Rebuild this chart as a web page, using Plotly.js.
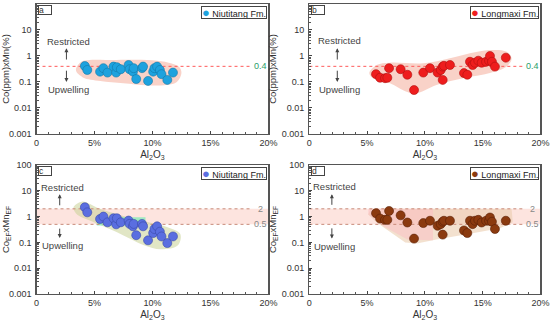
<!DOCTYPE html>
<html><head><meta charset="utf-8">
<script src="https://cdn.plot.ly/plotly-3.0.1.min.js"></script>
<style>html,body{margin:0;padding:0;background:#fff}#chart{width:550px;height:322px}</style>
</head><body><div id="chart"></div>
<script>
// ---- data ----
const niuAl = [4.17,4.38,5.48,5.77,6.12,6.64,6.87,6.93,7.27,7.94,8.03,8.32,8.38,8.6,9.1,9.19,9.62,10.06,10.17,10.4,10.64,10.78,11.28,11.77];
const niuCoMn = [0.41,0.29,0.25,0.34,0.23,0.39,0.23,0.37,0.31,0.45,0.31,0.25,0.34,0.13,0.34,0.39,0.11,0.25,0.34,0.39,0.29,0.20,0.12,0.23];
const niuEF = [2.3,1.46,0.81,1.0,0.6,0.86,0.5,0.86,0.6,0.7,0.52,0.42,0.52,0.19,0.52,0.42,0.12,0.23,0.33,0.42,0.26,0.17,0.094,0.17];
const lmAl = [5.77,6.12,6.55,6.75,6.9,7.9,8.48,9.06,9.86,10.44,11.1,11.37,11.54,11.54,11.65,12.17,13.38,13.67,13.9,14.13,14.33,14.62,14.91,15.29,15.55,15.63,15.8,16.06,17.0];
const lmCoMn = [0.20,0.146,0.14,0.146,0.34,0.31,0.19,0.049,0.23,0.34,0.23,0.29,0.39,0.12,0.42,0.45,0.22,0.19,0.6,0.45,0.55,0.66,0.55,0.6,0.66,1.0,0.6,0.39,0.86];
const lmEF = [1.35,0.84,0.75,0.75,1.65,1.12,0.59,0.14,0.56,0.69,0.44,0.51,0.63,0.2,0.69,0.69,0.29,0.23,0.69,0.51,0.69,0.75,0.59,0.69,0.69,0.92,0.63,0.33,0.69];

const xTickVals = [0,5,10,15,20];
const xTickText = ['0','5%','10%','15%','20%'];
const yTickVals = [0.001,0.01,0.1,1,10,100];
const yTickText = ['0.001','0.01','0.1','1','10','100'];

const thresholdAB = [0.4];
const thresholdCD = [0.5, 2];

// decorative field outlines (Al2O3 %, ratio)
const blobA_x = [3.4,3.8,4.6,6,8,10,11.4,12.3,12.5,12.1,11,9.5,7.5,5.5,4.0];
const blobA_y = [0.28,0.58,0.7,0.7,0.72,0.68,0.55,0.38,0.22,0.1,0.075,0.075,0.09,0.11,0.15];
const blobB_x = [5.19,5.83,6.98,9.86,12.17,13.9,15.63,17.07,17.5,17.07,15.63,13.3,11.0,9.28,8.42,6.98,5.54];
const blobB_y = [0.22,0.45,0.55,0.52,0.81,1.27,1.7,1.46,0.81,0.39,0.22,0.14,0.077,0.037,0.042,0.089,0.14];
const blobC_x = [3.19,3.9,5.5,8.4,11.3,12.4,12.2,10.7,9.27,6.9,4.6,3.45];
const blobC_y = [2.28,3.8,1.96,0.81,0.39,0.21,0.077,0.054,0.077,0.25,0.70,1.26];
const rectC_x = [5.2,9.4,9.4,5.2];
const rectC_y = [0.45,0.45,0.95,0.95];
const blobD_x = [5.3,17.5,17.6,16.5,14,11,9.3,8.3,7,5.8,5.1];
const blobD_y = [2,2,0.6,0.35,0.22,0.13,0.09,0.1,0.25,0.6,1.2];
const pinkD_x = [5.1,10.7,10.7,8.5,6.5,5.1];
const pinkD_y = [2,2,0.12,0.13,0.4,1.2];

// ---- build ----
const FONT = 'Liberation Sans, Arial, sans-serif';
const traces = [];
const axes = [['x','y'],['x2','y2'],['x3','y3'],['x4','y4']];

function poly(ax, xs, ys, color, spline){
  traces.push({type:'scatter', mode:'lines', x:xs.concat([xs[0]]), y:ys.concat([ys[0]]),
    fill:'toself', fillcolor:color, line:{width:0, shape: spline?'spline':'linear', smoothing:1},
    xaxis:ax[0], yaxis:ax[1], hoverinfo:'skip', showlegend:false});
}
function hline(ax, yv, color, dash){
  traces.push({type:'scatter', mode:'lines', x:[0,18.6], y:[yv,yv], line:{color:color, width:1, dash:dash},
    xaxis:ax[0], yaxis:ax[1], hoverinfo:'skip', showlegend:false});
}
function pts(ax, xs, ys, color, edge, name){
  traces.push({type:'scatter', mode:'markers', x:xs, y:ys, name:name,
    marker:{size:9, color:color, line:{color:edge, width:0.6}},
    xaxis:ax[0], yaxis:ax[1], showlegend:false});
}

// Panel a
poly(axes[0], blobA_x, blobA_y, 'rgba(244,165,145,0.5)', true);
hline(axes[0], thresholdAB[0], '#ff5a5a', 'dot');
pts(axes[0], niuAl, niuCoMn, '#1ea2de', '#1478a8', 'Niutitang Fm.');
// Panel b
poly(axes[1], blobB_x, blobB_y, 'rgba(244,165,145,0.5)', true);
hline(axes[1], thresholdAB[0], '#ff5a5a', 'dot');
pts(axes[1], lmAl, lmCoMn, '#ee1d1d', '#b01010', 'Longmaxi Fm.');
// Panel c
poly(axes[2], [0,20,20,0], [thresholdCD[0],thresholdCD[0],thresholdCD[1],thresholdCD[1]], 'rgba(250,195,185,0.45)', false);
poly(axes[2], blobC_x, blobC_y, 'rgba(200,210,150,0.55)', true);
poly(axes[2], rectC_x, rectC_y, 'rgba(120,235,180,0.7)', false);
hline(axes[2], thresholdCD[1], '#c88a78', 'dot');
hline(axes[2], thresholdCD[0], '#c88a78', 'dot');
pts(axes[2], niuAl, niuEF, '#5a6ee0', '#3a4aa8', 'Niutitang Fm.');
// Panel d
poly(axes[3], [0,20,20,0], [thresholdCD[0],thresholdCD[0],thresholdCD[1],thresholdCD[1]], 'rgba(250,195,185,0.45)', false);
poly(axes[3], blobD_x, blobD_y, 'rgba(235,205,175,0.6)', false);
poly(axes[3], pinkD_x, pinkD_y, 'rgba(252,190,195,0.5)', false);
hline(axes[3], thresholdCD[1], '#c88a78', 'dot');
hline(axes[3], thresholdCD[0], '#c88a78', 'dot');
pts(axes[3], lmAl, lmEF, '#8b3a0f', '#5a2006', 'Longmaxi Fm.');

function xax(domain){
  return {domain:domain, range:[0,20], tickmode:'array', tickvals:xTickVals, ticktext:xTickText,
    ticks:'inside', ticklen:3, tickcolor:'#444', showline:true, linecolor:'#555', linewidth:1.2, mirror:true,
    showgrid:false, zeroline:false, tickfont:{family:FONT, size:9, color:'#333'},
    minor:{dtick:1, ticks:'inside', ticklen:2, tickcolor:'#555', showgrid:false},
    title:{text:'Al<sub>2</sub>O<sub>3</sub>', font:{family:FONT, size:10, color:'#333'}, standoff:4}};
}
function yax(domain, title){
  return {domain:domain, type:'log', range:[-3,2], tickmode:'array', tickvals:yTickVals, ticktext:yTickText,
    ticks:'inside', ticklen:3, tickcolor:'#444', showline:true, linecolor:'#555', linewidth:1.2, mirror:true,
    showgrid:false, zeroline:false, tickfont:{family:FONT, size:9, color:'#333'}, ticklabelstandoff:2,
    minor:{dtick:'D1', ticks:'inside', ticklen:2, tickcolor:'#555', showgrid:false},
    title:{text:title, font:{family:FONT, size:9.5, color:'#333'}, standoff:3}};
}
const xa = [0.0664, 0.488], xb = [0.5624, 0.9827];
const yt = [0.5839, 0.9876], yb = [0.087, 0.4876];
const t1 = 'Co(ppm)xMn(%)';
const t2 = 'Co<sub>EF</sub>xMn<sub>EF</sub>';

const ann = [];
const letters = ['a','b','c','d'];
const legendNames = ['Niutitang Fm.','Longmaxi Fm.','Niutitang Fm.','Longmaxi Fm.'];
const legendColors = ['#1ea2de','#ee1d1d','#5a6ee0','#8b3a0f'];
const restrictedY = [3.6, 4.0, 13.5, 14.5];
const upwellingY = [0.05, 0.05, 0.075, 0.07];
const arrowX = [2.58, 2.42, 2.0, 1.95];
const upArrow = [[0.64,2.0],[0.64,2.0],[2.4,7.4],[2.5,7.4]];
const downArrow = [[0.31,0.10],[0.31,0.10],[0.39,0.147],[0.4,0.14]];
axes.forEach((ax, i) => {
  const xr = ax[0], yr = ax[1];
  ann.push({xref:xr+' domain', yref:yr+' domain', x:0.008, y:0.99, xanchor:'left', yanchor:'top',
    text:letters[i], showarrow:false, font:{family:FONT, size:8.5, color:'#333'},
    bordercolor:'#444', borderwidth:1, borderpad:0, width:12, height:8, align:'left', bgcolor:'#fff'});
  ann.push({xref:xr+' domain', yref:yr+' domain', x:0.995, y:0.985, xanchor:'right', yanchor:'top',
    text:'<span style="color:'+legendColors[i]+';font-size:13px">●</span> '+legendNames[i], showarrow:false,
    font:{family:FONT, size:9, color:'#222'}, bordercolor:'#444', borderwidth:1, borderpad:0, height:11, bgcolor:'#fff'});
  ann.push({xref:xr, yref:yr, x:arrowX[i]+0.2, y:Math.log10(restrictedY[i]), text:'Restricted', showarrow:false,
    font:{family:FONT, size:9.5, color:'#444'}});
  ann.push({xref:xr, yref:yr, x:arrowX[i]+0.2, y:Math.log10(upwellingY[i]), text:'Upwelling', showarrow:false,
    font:{family:FONT, size:9.5, color:'#444'}});
  ann.push({xref:xr, yref:yr, axref:xr, ayref:yr, x:arrowX[i], y:Math.log10(upArrow[i][1]),
    ax:arrowX[i], ay:Math.log10(upArrow[i][0]), showarrow:true, arrowhead:2, arrowsize:0.8, arrowwidth:1, arrowcolor:'#444', text:''});
  ann.push({xref:xr, yref:yr, axref:xr, ayref:yr, x:arrowX[i], y:Math.log10(downArrow[i][1]),
    ax:arrowX[i], ay:Math.log10(downArrow[i][0]), showarrow:true, arrowhead:2, arrowsize:0.8, arrowwidth:1, arrowcolor:'#444', text:''});
  if (i < 2) {
    ann.push({xref:xr, yref:yr, x:19.3, y:Math.log10(thresholdAB[0]), text:String(thresholdAB[0]), showarrow:false,
      font:{family:FONT, size:9, color:'#2a9d6a'}});
  } else {
    thresholdCD.forEach(v => ann.push({xref:xr, yref:yr, x:19.3, y:Math.log10(v), text:String(v), showarrow:false,
      font:{family:FONT, size:9, color:'#888'}}));
  }
});

const layout = {
  width:550, height:322, margin:{l:0,r:0,t:0,b:0}, paper_bgcolor:'#fff', plot_bgcolor:'#fff',
  showlegend:false, font:{family:FONT},
  xaxis:Object.assign(xax(xa), {anchor:'y'}), yaxis:Object.assign(yax(yt, t1), {anchor:'x'}),
  xaxis2:Object.assign(xax(xb), {anchor:'y2'}), yaxis2:Object.assign(yax(yt, t1), {anchor:'x2'}),
  xaxis3:Object.assign(xax(xa), {anchor:'y3'}), yaxis3:Object.assign(yax(yb, t2), {anchor:'x3'}),
  xaxis4:Object.assign(xax(xb), {anchor:'y4'}), yaxis4:Object.assign(yax(yb, t2), {anchor:'x4'}),
  annotations:ann
};
Plotly.newPlot('chart', traces, layout, {staticPlot:true, displayModeBar:false});
</script></body></html>
